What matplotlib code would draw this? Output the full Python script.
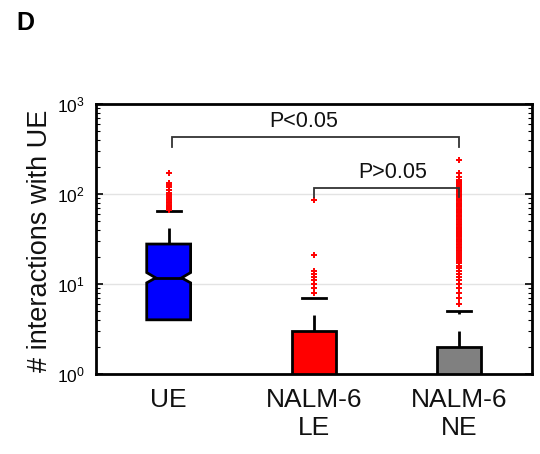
import matplotlib
matplotlib.use("Agg")
import matplotlib.pyplot as plt
from matplotlib.patches import Polygon, Rectangle
from matplotlib.ticker import LogLocator, NullFormatter

plt.rcParams['font.family'] = ['Liberation Sans', 'DejaVu Sans']
plt.rcParams['lines.scale_dashes'] = False

# Group labels and summary statistics (counts per cell)
groups = ["UE", "NALM-6\nLE", "NALM-6\nNE"]
colors = ["#0000ff", "#ff0000", "#808080"]
q1 = [4.0, 1.0, 1.0]
median = [11.7, 1.0, 1.0]
q3 = [27.8, 3.0, 2.0]
notch_lo = [10.3, None, None]
notch_hi = [13.4, None, None]
upper_adj = [65, 7, 5]

outliers_ue = [170, 134, 126, 119, 111, 102, 97, 93, 89, 86, 82, 79, 76, 74,
               72, 70, 68, 67, 66]
outliers_le = [86, 21, 14, 13, 12, 11, 10, 9, 8]
outliers_ne = [239, 170, 153, 143, 140, 137, 134, 131, 128, 125, 122, 119,
               116, 113, 110, 107, 104, 101, 98, 95, 92, 89, 86, 83, 80, 77,
               75, 73, 71, 69, 67, 65, 63, 61, 59, 57, 55, 53, 51, 49, 47,
               45, 43, 42, 41, 40, 39, 38, 37, 36, 35, 34, 33, 32, 31, 30,
               29, 28, 27, 26, 25, 24, 23, 22, 21, 20, 19, 18, 17, 16, 15,
               14, 13, 12, 11, 10, 9, 8, 7, 6]
outliers = [outliers_ue, outliers_le, outliers_ne]

# Significance brackets: (x_left, x_right, y_top, y_leg_bottom, label, label_x, label_y)
brackets = [
    (1.025, 3.0, 426, 336, "P<0.05", 1.93, 635),
    (2.0, 3.0, 116.6, 92, "P>0.05", 2.54, 172),
]

fig = plt.figure(figsize=(5.40, 4.54), dpi=100)
ax = fig.add_axes([96/540, 1-374/454, 436/540, 270/454])
ax.set_yscale('log')
ax.set_ylim(1, 1000)
ax.set_xlim(0.5, 3.5)

for yv in (10, 100):
    ax.axhline(yv, color='#e3e3e3', lw=1.0, zorder=0)

half = 0.151
inset = 0.062
cap_half = 0.083
for i in range(3):
    x = i + 1
    if notch_lo[i] is not None:
        verts = [(x-half, q1[i]), (x+half, q1[i]), (x+half, notch_lo[i]),
                 (x+half-inset, median[i]), (x+half, notch_hi[i]),
                 (x+half, q3[i]), (x-half, q3[i]), (x-half, notch_hi[i]),
                 (x-half+inset, median[i]), (x-half, notch_lo[i])]
        ax.add_patch(Polygon(verts, closed=True, facecolor=colors[i],
                             edgecolor='black', lw=2.0, zorder=3))
        ax.plot([x-half+inset, x+half-inset], [median[i], median[i]],
                color='black', lw=2.0, zorder=4)
    else:
        ax.add_patch(Rectangle((x-half, q1[i]), 2*half, q3[i]-q1[i],
                               facecolor=colors[i], edgecolor='black',
                               lw=2.0, zorder=3))
    # dashed upper whisker and cap
    ax.plot([x, x], [q3[i], upper_adj[i]], color='black', lw=2.0,
            dashes=(11.5, 12.3), solid_capstyle='butt', zorder=2)
    ax.plot([x-cap_half, x+cap_half], [upper_adj[i], upper_adj[i]],
            color='black', lw=2.0, zorder=2)
    ax.plot([x]*len(outliers[i]), outliers[i], linestyle='none', marker='+',
            color='#ff0000', markersize=4.5, mew=1.4, zorder=5)

for xl, xr, yt, yb, label, lx, ly in brackets:
    ax.plot([xl, xl, xr, xr], [yb, yt, yt, yb], color='#333333', lw=1.3,
            zorder=6, solid_joinstyle='miter')
    ax.text(lx, ly, label, ha='center', va='center', fontsize=15.5,
            color='#111111')

ax.set_xticks([1, 2, 3])
ax.set_xticklabels(groups, fontsize=19, color='#111111')
ax.tick_params(axis='x', length=0, pad=10)
ax.yaxis.set_major_locator(LogLocator(base=10, numticks=10))
ax.yaxis.set_minor_locator(LogLocator(base=10, subs=range(2, 10), numticks=10))
ax.yaxis.set_minor_formatter(NullFormatter())
ax.tick_params(axis='y', which='both', direction='in', right=True,
               labelsize=12.5, pad=8)
ax.tick_params(axis='y', which='major', length=5, width=1.2)
ax.tick_params(axis='y', which='minor', length=3, width=0.8)
for s in ax.spines.values():
    s.set_linewidth(2.0)

ax.set_ylabel("# interactions with UE", fontsize=19.5, color='#111111')
ax.yaxis.set_label_coords(-(96-53)/436, (374-241)/270)
fig.text(16/540, 1-23/454, "D", fontsize=18, fontweight='bold',
         va='center', ha='left')

fig.savefig("out.png", dpi=100)
